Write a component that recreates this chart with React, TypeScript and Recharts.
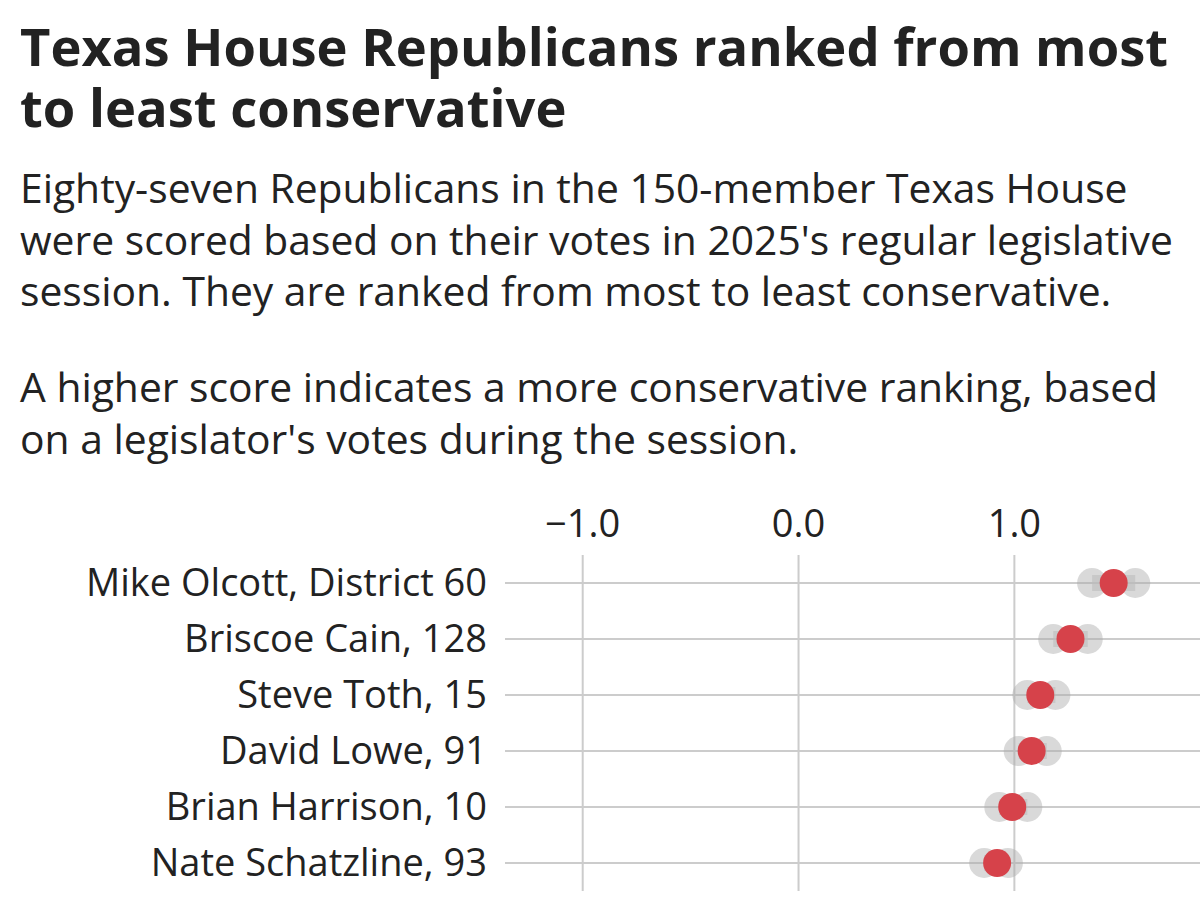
import React from 'react';
import { ComposedChart, Line, Bar, XAxis, YAxis, ReferenceLine } from 'recharts';

const legislators = [
  'Mike Olcott, District 60',
  'Briscoe Cain, 128',
  'Steve Toth, 15',
  'David Lowe, 91',
  'Brian Harrison, 10',
  'Nate Schatzline, 93',
];
const scores = [1.46, 1.26, 1.12, 1.08, 0.99, 0.92];
const lows = [1.36, 1.18, 1.06, 1.02, 0.93, 0.86];
const highs = [1.56, 1.34, 1.19, 1.15, 1.06, 0.97];
const xTicks = [-1, 0, 1];

const data = legislators.map((name, i) => ({
  name,
  score: scores[i],
  low: lows[i],
  high: highs[i],
  range: [lows[i], highs[i]],
}));

const font = '"Open Sans", sans-serif';
const gridColor = '#cccccc';

const App: React.FC = () => {
  return (
    <div style={{ position: 'absolute', left: 0, top: 0, width: 1200, height: 897, overflow: 'hidden', background: '#fff', fontFamily: font }}>
      <div style={{ position: 'absolute', left: 20, top: 15, width: 1175, fontSize: 52.5, lineHeight: '61px', fontWeight: 700, color: '#222' }}>
        Texas House Republicans ranked from most to least conservative
      </div>
      <div style={{ position: 'absolute', left: 20, top: 162, width: 1180, fontSize: 40.8, lineHeight: '51.5px', color: '#222' }}>
        <div>Eighty-seven Republicans in the 150-member Texas House were scored based on their votes in 2025's regular legislative session. They are ranked from most to least conservative.</div>
        <div style={{ marginTop: 44.5 }}>A higher score indicates a more conservative ranking, based on a legislator's votes during the session.</div>
      </div>
      <div style={{ position: 'absolute', left: 0, top: 470 }}>
        <ComposedChart
          width={1200}
          height={427}
          data={data}
          layout="vertical"
          margin={{ top: 0, right: 0, bottom: 6, left: 0 }}
        >
          <XAxis
            type="number"
            orientation="top"
            domain={[-1.36, 1.86]}
            allowDataOverflow
            ticks={xTicks}
            tickFormatter={(v: number) => (v < 0 ? '\u2212' : '') + Math.abs(v).toFixed(1)}
            axisLine={false}
            tickLine={false}
            tickSize={0}
            tickMargin={18}
            height={85}
            tick={{ fontSize: 38, fill: '#222', fontFamily: font }}
          />
          <YAxis
            type="category"
            dataKey="name"
            width={505}
            axisLine={false}
            tickLine={false}
            tickSize={0}
            tickMargin={18}
            tick={{ fontSize: 38, fill: '#222', fontFamily: font }}
          />
          {xTicks.map((t) => (
            <ReferenceLine key={`x${t}`} x={t} stroke={gridColor} strokeWidth={2} />
          ))}
          {legislators.map((n) => (
            <ReferenceLine key={n} y={n} stroke={gridColor} strokeWidth={2} />
          ))}
          <Bar dataKey="range" barSize={16} fill="#aaaaaa" fillOpacity={0.35} isAnimationActive={false} />
          <Line dataKey="low" stroke="none" dot={{ r: 15, fill: '#aaaaaa', fillOpacity: 0.45, stroke: 'none' }} activeDot={false} isAnimationActive={false} />
          <Line dataKey="high" stroke="none" dot={{ r: 15, fill: '#aaaaaa', fillOpacity: 0.45, stroke: 'none' }} activeDot={false} isAnimationActive={false} />
          <Line dataKey="score" stroke="none" dot={{ r: 14, fill: '#d6424a', stroke: 'none' }} activeDot={false} isAnimationActive={false} />
        </ComposedChart>
      </div>
    </div>
  );
};

export default App;
